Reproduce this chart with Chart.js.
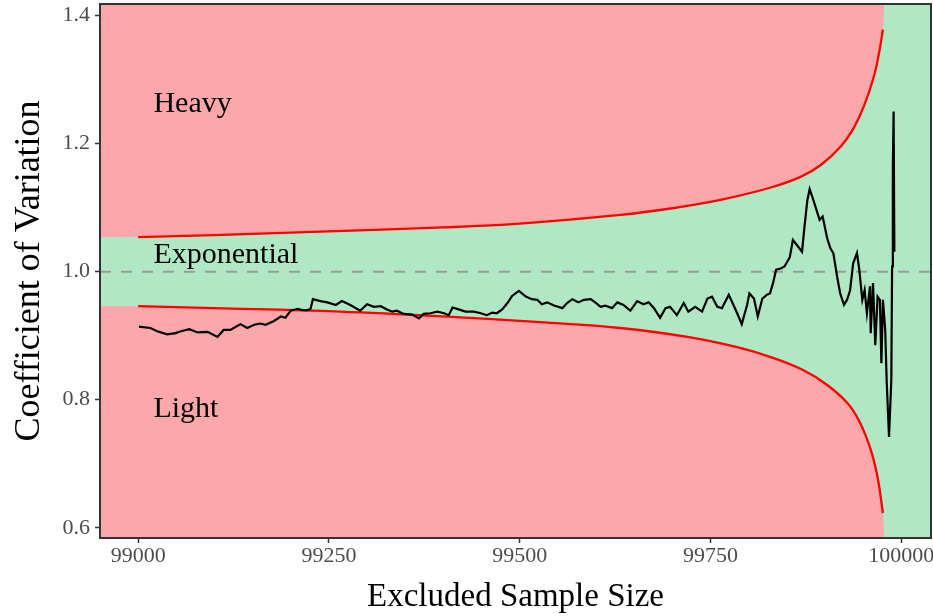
<!DOCTYPE html>
<html>
<head>
<meta charset="utf-8">
<script src="https://cdn.jsdelivr.net/npm/chart.js@4.4.1/dist/chart.umd.min.js"></script>
<style>
  html, body { margin: 0; padding: 0; background: #fff; }
</style>
</head>
<body>
<canvas id="cvChart" width="933" height="616"></canvas>
<script>
// observed coefficient of variation vs excluded sample size
const cvX = [99001, 99016, 99025, 99038, 99049, 99056, 99067, 99078, 99091, 99104, 99112, 99121, 99128, 99134, 99143, 99152, 99160, 99167, 99178, 99187,
  99193, 99200, 99209, 99215, 99222, 99226, 99229, 99239, 99248, 99259, 99267, 99278, 99291, 99300, 99309, 99318, 99326, 99333, 99339, 99348,
  99359, 99368, 99374, 99383, 99392, 99401, 99407, 99412, 99420, 99429, 99440, 99449, 99457, 99464, 99470, 99477, 99484, 99490, 99499, 99508,
  99516, 99523, 99529, 99536, 99545, 99556, 99562, 99569, 99577, 99584, 99593, 99599, 99606, 99612, 99621, 99628, 99636, 99645, 99654, 99662,
  99669, 99676, 99684, 99691, 99697, 99706, 99715, 99721, 99730, 99739, 99746, 99752, 99759, 99765, 99774, 99785, 99791, 99798, 99801, 99807,
  99812, 99818, 99824, 99828, 99832, 99836, 99842, 99847, 99854, 99858, 99863, 99870, 99873, 99877, 99880, 99884, 99889, 99893, 99897, 99903,
  99907, 99911, 99916, 99920, 99925, 99929, 99933, 99937, 99942, 99945, 99949, 99952, 99955, 99959, 99960, 99963, 99966, 99969, 99972, 99974,
  99976, 99979, 99981, 99984, 99987, 99988, 99989, 99990, 99991];
const cvY = [0.914, 0.912, 0.907, 0.902, 0.904, 0.907, 0.910, 0.905, 0.906, 0.898, 0.909, 0.909, 0.914, 0.918, 0.912, 0.917, 0.919, 0.917, 0.923, 0.930,
  0.928, 0.939, 0.942, 0.940, 0.940, 0.942, 0.957, 0.954, 0.952, 0.948, 0.954, 0.948, 0.939, 0.949, 0.945, 0.946, 0.941, 0.9375, 0.939, 0.934,
  0.933, 0.927, 0.934, 0.935, 0.9375, 0.935, 0.932, 0.944, 0.941, 0.9375, 0.9375, 0.935, 0.932, 0.936, 0.935, 0.941, 0.951, 0.962, 0.970, 0.961,
  0.957, 0.956, 0.949, 0.952, 0.947, 0.943, 0.951, 0.957, 0.952, 0.956, 0.957, 0.952, 0.945, 0.947, 0.943, 0.952, 0.948, 0.939, 0.954, 0.949,
  0.952, 0.943, 0.928, 0.943, 0.945, 0.932, 0.951, 0.9375, 0.945, 0.9375, 0.958, 0.961, 0.945, 0.943, 0.964, 0.935, 0.918, 0.948, 0.966, 0.958,
  0.930, 0.958, 0.964, 0.966, 0.982, 1.003, 1.005, 1.008, 1.0225, 1.0495, 1.042, 1.031, 1.068, 1.112, 1.129, 1.115, 1.096, 1.081, 1.086, 1.052,
  1.037, 1.029, 0.992, 0.966, 0.948, 0.956, 0.971, 1.013, 1.029, 1.003, 0.956, 0.971, 0.935, 0.977, 0.904, 0.982, 0.885, 0.961, 0.956, 0.857,
  0.956, 0.909, 0.826, 0.742, 0.831, 1.008, 1.164, 1.25, 1.031];

// red boundary curves
const upperX = [99000, 99100, 99239, 99400, 99500, 99632, 99700, 99763, 99828, 99868, 99895, 99921, 99938, 99951, 99964, 99971, 99976];
const upperY = [1.054, 1.057, 1.0625, 1.069, 1.075, 1.0886, 1.099, 1.112, 1.131, 1.148, 1.167, 1.196, 1.225, 1.258, 1.304, 1.342, 1.378];
const lowerX = [99000, 99100, 99265, 99400, 99527, 99632, 99720, 99785, 99828, 99872, 99903, 99930, 99946, 99960, 99969, 99976];
const lowerY = [0.946, 0.943, 0.9375, 0.930, 0.921, 0.912, 0.898, 0.882, 0.867, 0.846, 0.823, 0.794, 0.764, 0.722, 0.679, 0.623];

const xTicks = [99000, 99250, 99500, 99750, 100000];
const yTicks = [0.6, 0.8, 1.0, 1.2, 1.4];
const regionNames = ['Heavy', 'Exponential', 'Light'];
const regionY = [1.262, 1.026, 0.785];
const regionX = 99020;

const xMin = 98950;
const xMax = 100039;
const yMin = 0.584;
const yMax = 1.418;
const fillEndX = 99978;

const redFill = 'rgb(252,168,170)';
const greenFill = 'rgb(176,232,198)';
const serif = 'Liberation Serif';

function toPoints(xs, ys) {
  return xs.map((x, i) => ({x: x, y: ys[i]}));
}

const heavyArea = [{x: xMin, y: upperY[0]}].concat(toPoints(upperX, upperY), [{x: fillEndX, y: yMax + 0.02}]);
const lightArea = [{x: xMin, y: lowerY[0]}].concat(toPoints(lowerX, lowerY), [{x: fillEndX, y: yMin - 0.02}]);

const panelPlugin = {
  id: 'panel',
  beforeDraw(chart) {
    const a = chart.chartArea;
    const ctx = chart.ctx;
    ctx.save();
    ctx.fillStyle = greenFill;
    ctx.fillRect(a.left, a.top, a.right - a.left, a.bottom - a.top);
    ctx.restore();
  },
  afterDatasetsDraw(chart) {
    const ctx = chart.ctx;
    const xs = chart.scales.x;
    const ys = chart.scales.y;
    ctx.save();
    ctx.fillStyle = '#000';
    ctx.font = '30px "' + serif + '"';
    ctx.textAlign = 'left';
    ctx.textBaseline = 'middle';
    for (let i = 0; i < regionNames.length; i++) {
      ctx.fillText(regionNames[i], xs.getPixelForValue(regionX), ys.getPixelForValue(regionY[i]));
    }
    ctx.restore();
  },
  afterDraw(chart) {
    const a = chart.chartArea;
    const ctx = chart.ctx;
    ctx.save();
    ctx.strokeStyle = '#333';
    ctx.lineWidth = 2;
    ctx.strokeRect(a.left, a.top, a.right - a.left, a.bottom - a.top);
    ctx.restore();
  }
};

const ctx = document.getElementById('cvChart');
const chart = new Chart(ctx, {
  type: 'line',
  data: {
    datasets: [
      {
        data: heavyArea, fill: 'end', backgroundColor: redFill, borderWidth: 0,
        pointRadius: 0, tension: 0.4, order: 10
      },
      {
        data: lightArea, fill: 'start', backgroundColor: redFill, borderWidth: 0,
        pointRadius: 0, tension: 0.4, order: 10
      },
      {
        data: [{x: xMin, y: 1}, {x: xMax, y: 1}], borderColor: '#9a9a9a', borderWidth: 2,
        borderDash: [11, 10], pointRadius: 0, fill: false, order: 5
      },
      {
        data: toPoints(upperX, upperY), borderColor: '#ff0000', borderWidth: 2.3,
        pointRadius: 0, fill: false, tension: 0.4, order: 3
      },
      {
        data: toPoints(lowerX, lowerY), borderColor: '#ff0000', borderWidth: 2.3,
        pointRadius: 0, fill: false, tension: 0.4, order: 3
      },
      {
        data: toPoints(cvX, cvY), borderColor: '#000', borderWidth: 2.2,
        pointRadius: 0, fill: false, tension: 0, order: 1
      }
    ]
  },
  options: {
    responsive: false,
    animation: false,
    events: [],
    layout: {padding: {top: 4, right: 2, left: 0, bottom: 0}},
    plugins: {legend: {display: false}, tooltip: {enabled: false}},
    scales: {
      x: {
        type: 'linear', min: xMin, max: xMax,
        afterBuildTicks: function (scale) { scale.ticks = xTicks.map(v => ({value: v})); },
        afterFit: function (scale) { scale.height = 78; scale.paddingLeft = 0; scale.paddingRight = 0; },
        grid: {drawOnChartArea: false, color: '#333', tickLength: 5, tickWidth: 1.5},
        border: {display: false},
        ticks: {
          color: '#4d4d4d', font: {family: serif, size: 22}, padding: 0, maxRotation: 0,
          callback: function (v) { return String(v); }
        },
        title: {
          display: true, text: 'Excluded Sample Size', color: '#000',
          font: {family: serif, size: 33, lineHeight: 1}, padding: {top: 0, bottom: 2}
        }
      },
      y: {
        type: 'linear', min: yMin, max: yMax,
        afterBuildTicks: function (scale) { scale.ticks = yTicks.map(v => ({value: v})); },
        afterFit: function (scale) { scale.width = 100; scale.paddingTop = 0; scale.paddingBottom = 0; },
        grid: {drawOnChartArea: false, color: '#333', tickLength: 5, tickWidth: 1.5},
        border: {display: false},
        ticks: {
          color: '#4d4d4d', font: {family: serif, size: 22}, padding: 5,
          callback: function (v) { return v.toFixed(1); }
        },
        title: {
          display: true, text: 'Coefficient of Variation', color: '#000',
          font: {family: serif, size: 36, lineHeight: 1}, padding: {top: 12, bottom: 0}
        }
      }
    }
  },
  plugins: [panelPlugin]
});
</script>
</body>
</html>
